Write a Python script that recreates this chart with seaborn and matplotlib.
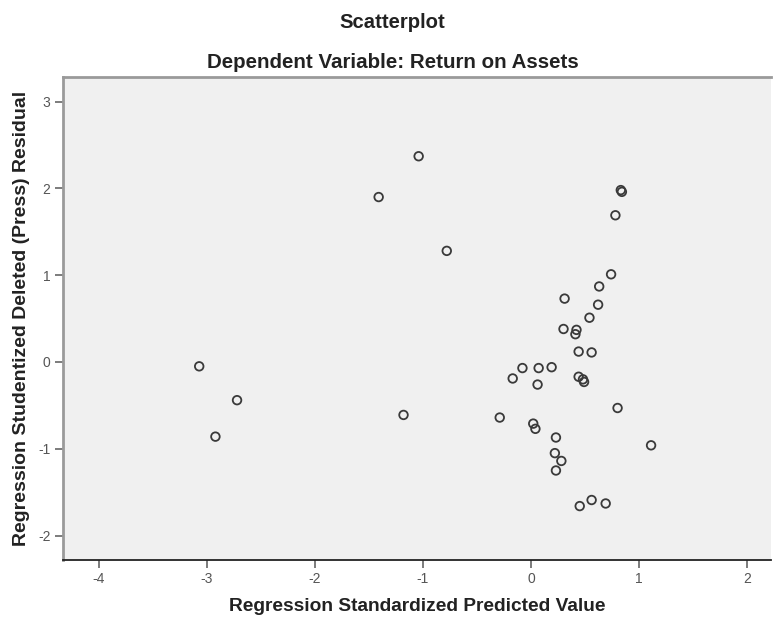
import pandas as pd
import seaborn as sns
import matplotlib.pyplot as plt

# values
predicted = [-3.07, -2.72, -2.92, -1.41, -1.04, -0.78, -1.18, -0.29, 0.83, 0.84,
             0.78, 0.74, 0.63, 0.31, 0.62, 0.54, 0.30, 0.42, 0.41, 0.44,
             0.56, -0.08, 0.07, 0.19, -0.17, 0.06, 0.44, 0.48, 0.49, 0.80,
             0.02, 0.04, 0.23, 1.11, 0.22, 0.28, 0.23, 0.45, 0.56, 0.69]
residual = [-0.05, -0.44, -0.86, 1.90, 2.37, 1.28, -0.61, -0.64, 1.98, 1.96,
            1.69, 1.01, 0.87, 0.73, 0.66, 0.51, 0.38, 0.37, 0.32, 0.12,
            0.11, -0.07, -0.07, -0.06, -0.19, -0.26, -0.17, -0.20, -0.23, -0.53,
            -0.71, -0.77, -0.87, -0.96, -1.05, -1.14, -1.25, -1.66, -1.59, -1.63]
x_ticks = [-4, -3, -2, -1, 0, 1, 2]
y_ticks = [-2, -1, 0, 1, 2, 3]

df = pd.DataFrame({'predicted': predicted, 'residual': residual})

sns.set_style('white')
plt.rcParams['font.family'] = ['Liberation Sans', 'DejaVu Sans']

fig = plt.figure(figsize=(7.73, 6.18), dpi=100)
ax = fig.add_axes([0.0815, 0.094, 0.916, 0.781])
ax.set_facecolor('#f0f0f0')

sns.scatterplot(data=df, x='predicted', y='residual', ax=ax, marker='o',
                s=38, facecolor='none', edgecolor='#3a3a3a', linewidth=1.3)

ax.set_xlim(-4.33, 2.22)
ax.set_ylim(-2.28, 3.28)
ax.set_xticks(x_ticks)
ax.set_yticks(y_ticks)
ax.set_xticklabels([str(t) for t in x_ticks])
ax.set_yticklabels([str(t) for t in y_ticks])
ax.tick_params(axis='both', direction='out', length=6, width=1.2, color='#666666',
               labelsize=10, labelcolor='#555555', pad=3)
ax.tick_params(left=True, bottom=True)

for side in ['left', 'top']:
    ax.spines[side].set_color('#9a9a9a')
    ax.spines[side].set_linewidth(2)
ax.spines['bottom'].set_color('#222222')
ax.spines['bottom'].set_linewidth(1.3)
ax.spines['right'].set_visible(False)

ax.set_xlabel('Regression Standardized Predicted Value', fontsize=13.8,
              fontweight='bold', color='#222222', labelpad=8)
ax.set_ylabel('Regression Studentized Deleted (Press) Residual', fontsize=14,
              fontweight='bold', color='#222222', labelpad=6)

fig.text(0.508, 0.964, 'Scatterplot', ha='center', va='center',
         fontsize=14.6, fontweight='bold', color='#222222')
fig.text(0.508, 0.899, 'Dependent Variable: Return on Assets', ha='center',
         va='center', fontsize=14.8, fontweight='bold', color='#222222')

fig.savefig('out.png', dpi=100)
